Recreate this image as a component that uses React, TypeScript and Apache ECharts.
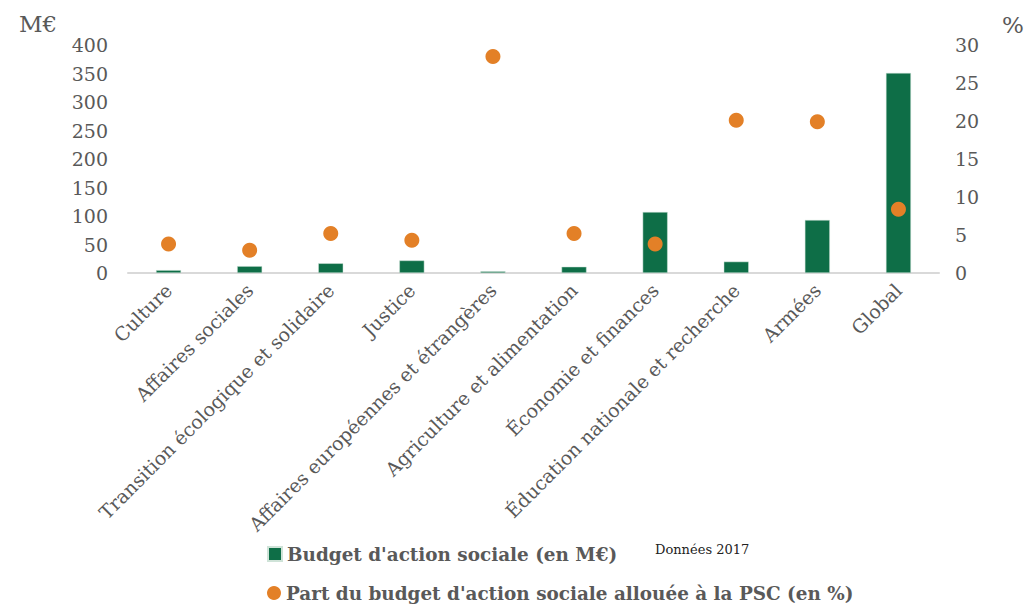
import React, { useEffect, useRef } from "react";
import * as echarts from "echarts";

const categories = [
  "Culture",
  "Affaires sociales",
  "Transition écologique et solidaire",
  "Justice",
  "Affaires européennes et étrangères",
  "Agriculture et alimentation",
  "Économie et finances",
  "Éducation nationale et recherche",
  "Armées",
  "Global",
];
const budget = [5, 12, 17, 22, 3, 11, 107, 20, 93, 351];
const partPSC = [3.8, 3.0, 5.2, 4.3, 28.5, 5.2, 3.8, 20.1, 19.9, 8.4];
const budgetName = "Budget d'action sociale (en M€)";
const partName = "Part du budget d'action sociale allouée à la PSC (en %)";

const FONT = "DejaVu Serif";
const GREEN = "#0e6e47";
const ORANGE = "#e38027";
const GRAY = "#595959";

const legendText = { fontFamily: FONT, fontWeight: "bold", fontSize: 18.4, color: GRAY };

export default function App() {
  const ref = useRef<HTMLDivElement>(null);
  useEffect(() => {
    if (!ref.current) return;
    const chart = echarts.init(ref.current, undefined, { renderer: "svg" });
    chart.setOption({
      animation: false,
      textStyle: { fontFamily: FONT },
      grid: { left: 128, right: 89, top: 45, bottom: 332, containLabel: false },
      legend: [
        {
          left: 262,
          top: 540,
          itemWidth: 14,
          itemHeight: 14,
          itemGap: 4,
          textStyle: legendText,
          data: [{ name: budgetName, icon: "rect" }],
        },
        {
          left: 262,
          top: 579,
          itemWidth: 14,
          itemHeight: 14,
          itemGap: 4,
          textStyle: legendText,
          data: [{ name: partName, icon: "circle" }],
        },
      ],
      graphic: [
        { type: "text", left: 19, top: 12, style: { text: "M€", font: `23px '${FONT}'`, fill: GRAY } },
        { type: "text", left: 1002, top: 13, style: { text: "%", font: `23px '${FONT}'`, fill: GRAY } },
        { type: "text", left: 655, top: 543, style: { text: "Données 2017", font: `13px '${FONT}'`, fill: "#222" } },
      ],
      xAxis: {
        type: "category",
        data: categories,
        axisLine: { lineStyle: { color: "#d9d9d9", width: 2 } },
        axisTick: { show: false },
        axisLabel: { rotate: 45, interval: 0, fontSize: 19, color: GRAY, fontFamily: FONT, margin: 14 },
      },
      yAxis: [
        {
          type: "value",
          min: 0,
          max: 400,
          interval: 50,
          splitLine: { show: false },
          axisLabel: { fontSize: 19, color: GRAY, fontFamily: FONT, margin: 20 },
        },
        {
          type: "value",
          min: 0,
          max: 30,
          interval: 5,
          splitLine: { show: false },
          axisLabel: { fontSize: 19, color: GRAY, fontFamily: FONT, margin: 16 },
        },
      ],
      series: [
        {
          name: budgetName,
          type: "bar",
          yAxisIndex: 0,
          data: budget,
          barWidth: 25,
          itemStyle: { color: GREEN, borderColor: "#cfe3d8", borderWidth: 0.5 },
        },
        {
          name: partName,
          type: "scatter",
          yAxisIndex: 1,
          data: partPSC,
          symbol: "circle",
          symbolSize: 15,
          itemStyle: { color: ORANGE, opacity: 1 },
          z: 5,
        },
      ],
    });
    return () => chart.dispose();
  }, []);
  return <div ref={ref} style={{ width: 1028, height: 605, position: "absolute", left: 0, top: 0 }} />;
}
